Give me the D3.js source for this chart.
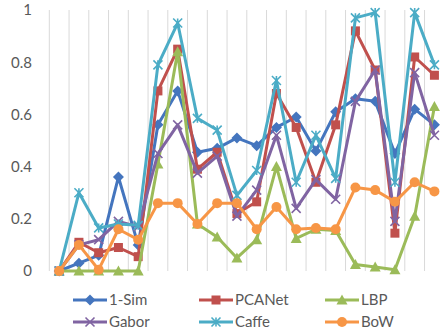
<!DOCTYPE html>
<html>
<head>
<meta charset="utf-8">
<script src="https://cdn.jsdelivr.net/npm/d3@7"></script>
<style>
  html, body { margin: 0; padding: 0; background: #fff; }
  svg { display: block; }
  text { font-family: Lato, "Open Sans", sans-serif; }
</style>
</head>
<body>
<svg id="chart" width="443" height="335"></svg>
<script>
// Twenty test cases, six methods (scores between 0 and 1)
const categories = d3.range(1, 21);
const seriesNames = ["1-Sim", "PCANet", "LBP", "Gabor", "Caffe", "BoW"];
const sim1   = [0, 0.03, 0.06, 0.36, 0.10, 0.56, 0.69, 0.455, 0.47, 0.51, 0.48, 0.55, 0.59, 0.46, 0.61, 0.66, 0.65, 0.45, 0.62, 0.56];
const pcanet = [0, 0.11, 0.07, 0.09, 0.055, 0.69, 0.85, 0.39, 0.455, 0.22, 0.265, 0.68, 0.55, 0.34, 0.56, 0.92, 0.77, 0.145, 0.82, 0.75];
const lbp    = [0, 0, 0, 0, 0, 0.41, 0.84, 0.18, 0.13, 0.05, 0.12, 0.40, 0.125, 0.16, 0.155, 0.025, 0.015, 0.005, 0.21, 0.63];
const gabor  = [0, 0.10, 0.12, 0.19, 0.17, 0.45, 0.56, 0.375, 0.44, 0.21, 0.31, 0.52, 0.24, 0.35, 0.275, 0.65, 0.77, 0.19, 0.76, 0.52];
const caffe  = [0, 0.30, 0.165, 0.18, 0.175, 0.79, 0.95, 0.585, 0.54, 0.29, 0.385, 0.73, 0.34, 0.52, 0.355, 0.97, 0.99, 0.34, 0.99, 0.79];
const bow    = [0, 0.10, 0.005, 0.16, 0.12, 0.26, 0.26, 0.18, 0.26, 0.26, 0.16, 0.245, 0.16, 0.165, 0.16, 0.32, 0.31, 0.265, 0.34, 0.305];
const yTicks = [0, 0.2, 0.4, 0.6, 0.8, 1];

const seriesValues = [sim1, pcanet, lbp, gabor, caffe, bow];
const colors = ["#4475BE", "#C0504D", "#9BBB59", "#8064A2", "#4BACC6", "#F79646"];
const markers = ["diamond", "square", "triangle", "cross", "asterisk", "circle"];

const svg = d3.select("#chart");

const x = d3.scaleBand().domain(categories).range([49.3, 444.3]).padding(0);
const y = d3.scaleLinear().domain([0, 1]).range([271, 10]);
const cx = c => x(c) + x.bandwidth() / 2;

// vertical gridlines at category boundaries
const bounds = categories.map(c => x(c)).concat([x(categories[categories.length - 1]) + x.bandwidth()]);
svg.append("g").selectAll("line").data(bounds).join("line")
  .attr("x1", d => d).attr("x2", d => d)
  .attr("y1", y(1)).attr("y2", y(0))
  .attr("stroke", "#d9d9d9").attr("stroke-width", 1);

// value axis
const yAxis = svg.append("g").attr("transform", "translate(32,0)")
  .call(d3.axisLeft(y).tickValues(yTicks).tickSize(0).tickPadding(0).tickFormat(d => d3.format("~g")(d)));
yAxis.select(".domain").remove();
yAxis.selectAll("text").attr("fill", "#595959").attr("font-size", 15).style("font-family", "Lato, 'Open Sans', sans-serif");

function drawMarker(g, type, color, s) {
  const h = s / 2;
  switch (type) {
    case "diamond":
      g.append("path").attr("d", `M0,${-h - 1}L${h + 1},0L0,${h + 1}L${-h - 1},0Z`).attr("fill", color);
      break;
    case "square":
      g.append("rect").attr("x", -h).attr("y", -h).attr("width", s).attr("height", s).attr("fill", color);
      break;
    case "triangle":
      g.append("path").attr("d", `M0,${-h - 1}L${h + 1},${h}L${-h - 1},${h}Z`).attr("fill", color);
      break;
    case "circle":
      g.append("circle").attr("r", h + 0.5).attr("fill", color);
      break;
    case "cross":
      g.append("path").attr("d", `M${-h},${-h}L${h},${h}M${-h},${h}L${h},${-h}`)
        .attr("stroke", color).attr("stroke-width", 1.6).attr("fill", "none");
      break;
    case "asterisk":
      g.append("path").attr("d", `M${-h},${-h}L${h},${h}M${-h},${h}L${h},${-h}M0,${-h}L0,${h}`)
        .attr("stroke", color).attr("stroke-width", 1.6).attr("fill", "none");
      break;
  }
}

const line = d3.line().x((d, i) => cx(categories[i])).y(d => y(d));

seriesValues.forEach((vals, si) => {
  const g = svg.append("g");
  g.append("path").datum(vals).attr("d", line)
    .attr("fill", "none").attr("stroke", colors[si]).attr("stroke-width", 3)
    .attr("stroke-linejoin", "round");
  vals.forEach((v, i) => {
    const m = g.append("g").attr("transform", `translate(${cx(categories[i])},${y(v)})`);
    drawMarker(m, markers[si], colors[si], 9);
  });
});

// legend: two rows of three
const legendCols = [73, 199, 325];
const legendRows = [300, 322];
const legend = svg.append("g");
seriesNames.forEach((name, i) => {
  const lx = legendCols[i % 3], ly = legendRows[Math.floor(i / 3)];
  const g = legend.append("g").attr("transform", `translate(${lx},${ly})`);
  g.append("line").attr("x1", 0).attr("x2", 34).attr("y1", 0).attr("y2", 0)
    .attr("stroke", colors[i]).attr("stroke-width", 3);
  const m = g.append("g").attr("transform", "translate(17,0)");
  drawMarker(m, markers[i], colors[i], 9);
  g.append("text").attr("x", 36).attr("y", 0).attr("dy", "0.35em")
    .attr("fill", "#595959").attr("font-size", 15).text(name);
});
</script>
</body>
</html>
